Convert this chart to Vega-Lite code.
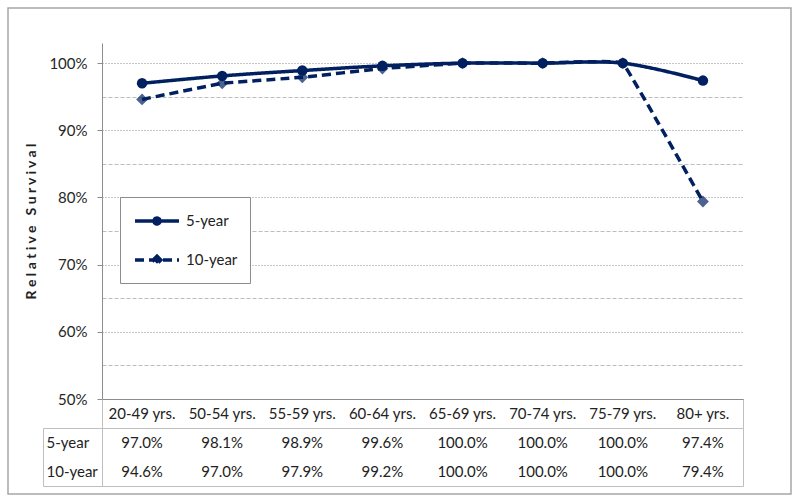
{
  "$schema": "https://vega.github.io/schema/vega-lite/v6.json",
  "width": 783,
  "height": 486,
  "autosize": {"type": "none"},
  "padding": {"left": 8, "top": 8, "right": 9, "bottom": 9},
  "background": "white",
  "config": {
    "view": {"stroke": "#a6a6a6", "strokeWidth": 1.5},
    "font": "Lato",
    "axis": {"labelFont": "Lato", "titleFont": "Lato"},
    "legend": {"labelFont": "Lato"}
  },
  "data": {
    "values": [
      {"age": "20-49 yrs.", "series": "5-year", "value": 0.970},
      {"age": "50-54 yrs.", "series": "5-year", "value": 0.981},
      {"age": "55-59 yrs.", "series": "5-year", "value": 0.989},
      {"age": "60-64 yrs.", "series": "5-year", "value": 0.996},
      {"age": "65-69 yrs.", "series": "5-year", "value": 1.000},
      {"age": "70-74 yrs.", "series": "5-year", "value": 1.000},
      {"age": "75-79 yrs.", "series": "5-year", "value": 1.000},
      {"age": "80+ yrs.", "series": "5-year", "value": 0.974},
      {"age": "20-49 yrs.", "series": "10-year", "value": 0.946},
      {"age": "50-54 yrs.", "series": "10-year", "value": 0.970},
      {"age": "55-59 yrs.", "series": "10-year", "value": 0.979},
      {"age": "60-64 yrs.", "series": "10-year", "value": 0.992},
      {"age": "65-69 yrs.", "series": "10-year", "value": 1.000},
      {"age": "70-74 yrs.", "series": "10-year", "value": 1.000},
      {"age": "75-79 yrs.", "series": "10-year", "value": 1.000},
      {"age": "80+ yrs.", "series": "10-year", "value": 0.794}
    ]
  },
  "encoding": {
    "x": {
      "field": "age",
      "type": "nominal",
      "sort": null,
      "scale": {"range": [94, 735], "paddingInner": 0, "paddingOuter": 0},
      "axis": {
        "orient": "bottom",
        "offset": -95,
        "labels": false,
        "ticks": false,
        "title": null,
        "grid": false,
        "domain": true,
        "domainColor": "#8c8c8c",
        "domainWidth": 1
      }
    }
  },
  "layer": [
    {
      "transform": [{"filter": "datum.series === '5-year'"}],
      "mark": {"type": "line", "interpolate": "catmull-rom", "color": "#002060", "strokeWidth": 3.5},
      "encoding": {
        "y": {
          "field": "value",
          "type": "quantitative",
          "scale": {"domain": [0.5, 1.03], "range": [391, 35], "nice": false, "zero": false},
          "axis": {
            "orient": "left",
            "offset": -94,
            "values": [0.5, 0.6, 0.7, 0.8, 0.9, 1.0],
            "format": ".0%",
            "title": "R e l a t i v e \u00a0\u00a0S u r v i v a l",
            "titleFontSize": 14,
            "titleFontWeight": "bold",
            "titleColor": "#222222",
            "titlePadding": 10,
            "grid": true,
            "gridDash": [1, 2],
            "gridColor": "#8c8c8c",
            "domainColor": "#8c8c8c",
            "tickColor": "#8c8c8c",
            "tickSize": 5,
            "labelPadding": 10,
            "labelFontSize": 15,
            "labelColor": "#262626"
          }
        },
        "strokeDash": {
          "field": "series",
          "type": "nominal",
          "scale": {"domain": ["5-year", "10-year"], "range": [[1, 0], [9, 5]]},
          "legend": {
            "orient": "none",
            "legendX": 112,
            "legendY": 189,
            "title": null,
            "padding": 12,
            "strokeColor": "#8c8c8c",
            "fillColor": "white",
            "symbolSize": 400,
            "symbolStrokeWidth": 3.5,
            "symbolStrokeColor": "#002060",
            "symbolFillColor": "#002060",
            "symbolOffset": 13,
            "labelOffset": 17,
            "rowPadding": 17,
            "labelFontSize": 15,
            "labelColor": "#222222",
            "encode": {
              "symbols": {
                "update": {
                  "shape": {"signal": "datum.value === '5-year' ? 'M-2.2,0L2.2,0M0.3,0A0.3,0.3 0 1 1 -0.3,0A0.3,0.3 0 1 1 0.3,0Z' : 'M-2.2,0L2.2,0M0,-0.38L0.38,0L0,0.38L-0.38,0Z'"},
                  "fill": {"value": "#002060"},
                  "stroke": {"value": "#002060"},
                  "strokeWidth": {"value": 3.5},
                  "strokeDash": {"signal": "datum.value === '10-year' ? [7, 4] : [1, 0]"},
                  "opacity": {"value": 1}
                }
              }
            }
          }
        }
      }
    },
    {
      "transform": [{"filter": "datum.series === '10-year'"}],
      "mark": {"type": "line", "interpolate": "cardinal", "tension": 0.85, "color": "#002060", "strokeWidth": 3.5},
      "encoding": {
        "y": {
          "field": "value",
          "type": "quantitative",
          "scale": {"domain": [0.5, 1.03], "range": [391, 35], "nice": false, "zero": false},
          "axis": null
        },
        "strokeDash": {
          "field": "series",
          "type": "nominal",
          "scale": {"domain": ["5-year", "10-year"], "range": [[1, 0], [9, 5]]},
          "legend": null
        }
      }
    },
    {
      "transform": [{"filter": "datum.series === '5-year'"}],
      "mark": {"type": "point", "filled": true, "color": "#002060", "shape": "circle", "size": 110, "opacity": 1},
      "encoding": {
        "y": {
          "field": "value",
          "type": "quantitative",
          "scale": {"domain": [0.5, 1.03], "range": [391, 35], "nice": false, "zero": false},
          "axis": {
            "orient": "left",
            "offset": -94,
            "values": [0.55, 0.65, 0.75, 0.85, 0.95],
            "labels": false,
            "ticks": false,
            "domain": false,
            "title": null,
            "grid": true,
            "gridDash": [4, 2],
            "gridColor": "#bdbdbd"
          }
        }
      }
    },
    {
      "transform": [{"filter": "datum.series === '10-year'"}],
      "mark": {"type": "point", "filled": true, "color": "#002060", "shape": "diamond", "size": 140, "opacity": 0.7},
      "encoding": {
        "y": {
          "field": "value",
          "type": "quantitative",
          "scale": {"domain": [0.5, 1.03], "range": [391, 35], "nice": false, "zero": false},
          "axis": null
        }
      }
    },
    {
      "mark": {"type": "text", "fontSize": 15, "color": "#222222", "font": "Lato"},
      "encoding": {
        "y": {
          "field": "series",
          "type": "nominal",
          "scale": {"domain": ["hdr", "5-year", "10-year"], "range": [391, 478], "paddingInner": 0, "paddingOuter": 0},
          "axis": {
            "orient": "left",
            "offset": -94,
            "labels": false,
            "ticks": false,
            "title": null,
            "domain": true,
            "domainColor": "#bfbfbf",
            "grid": false
          }
        },
        "text": {"field": "value", "type": "quantitative", "format": ".1%"}
      }
    },
    {
      "transform": [{"filter": "datum.series === '5-year'"}],
      "mark": {"type": "text", "fontSize": 15, "color": "#222222", "font": "Lato"},
      "encoding": {
        "y": {
          "datum": "hdr",
          "type": "nominal",
          "scale": {"domain": ["hdr", "5-year", "10-year"], "range": [391, 478], "paddingInner": 0, "paddingOuter": 0},
          "axis": {
            "orient": "right",
            "offset": -48,
            "labels": false,
            "ticks": false,
            "title": null,
            "domain": true,
            "domainColor": "#bfbfbf",
            "grid": false
          }
        },
        "text": {"field": "age", "type": "nominal"}
      }
    },
    {
      "mark": {"type": "text", "opacity": 0},
      "encoding": {
        "y": {
          "field": "series",
          "type": "nominal",
          "scale": {"domain": ["5-year", "10-year"], "range": [420, 478], "paddingInner": 0, "paddingOuter": 0},
          "axis": {
            "orient": "left",
            "offset": -35,
            "ticks": false,
            "tickSize": 0,
            "labelAlign": "left",
            "labelPadding": -3,
            "labelFontSize": 15,
            "labelColor": "#222222",
            "domain": true,
            "domainColor": "#bfbfbf",
            "title": null,
            "grid": false
          }
        },
        "text": {"value": ""}
      }
    },
    {
      "mark": {"type": "text", "opacity": 0},
      "encoding": {
        "x": {
          "field": "age",
          "type": "nominal",
          "sort": null,
          "scale": {"range": [35, 735], "paddingInner": 0, "paddingOuter": 0},
          "axis": null
        },
        "y": {
          "field": "value",
          "type": "quantitative",
          "scale": {"domain": [0, 2], "range": [478, 420], "nice": false, "zero": false},
          "axis": {
            "orient": "left",
            "offset": -35,
            "values": [0, 2],
            "labels": false,
            "ticks": false,
            "domain": false,
            "title": null,
            "grid": true,
            "gridColor": "#bfbfbf",
            "gridDash": []
          }
        },
        "text": {"value": ""}
      }
    }
  ],
  "resolve": {"scale": {"x": "independent", "y": "independent"}, "axis": {"x": "independent", "y": "independent"}}
}
